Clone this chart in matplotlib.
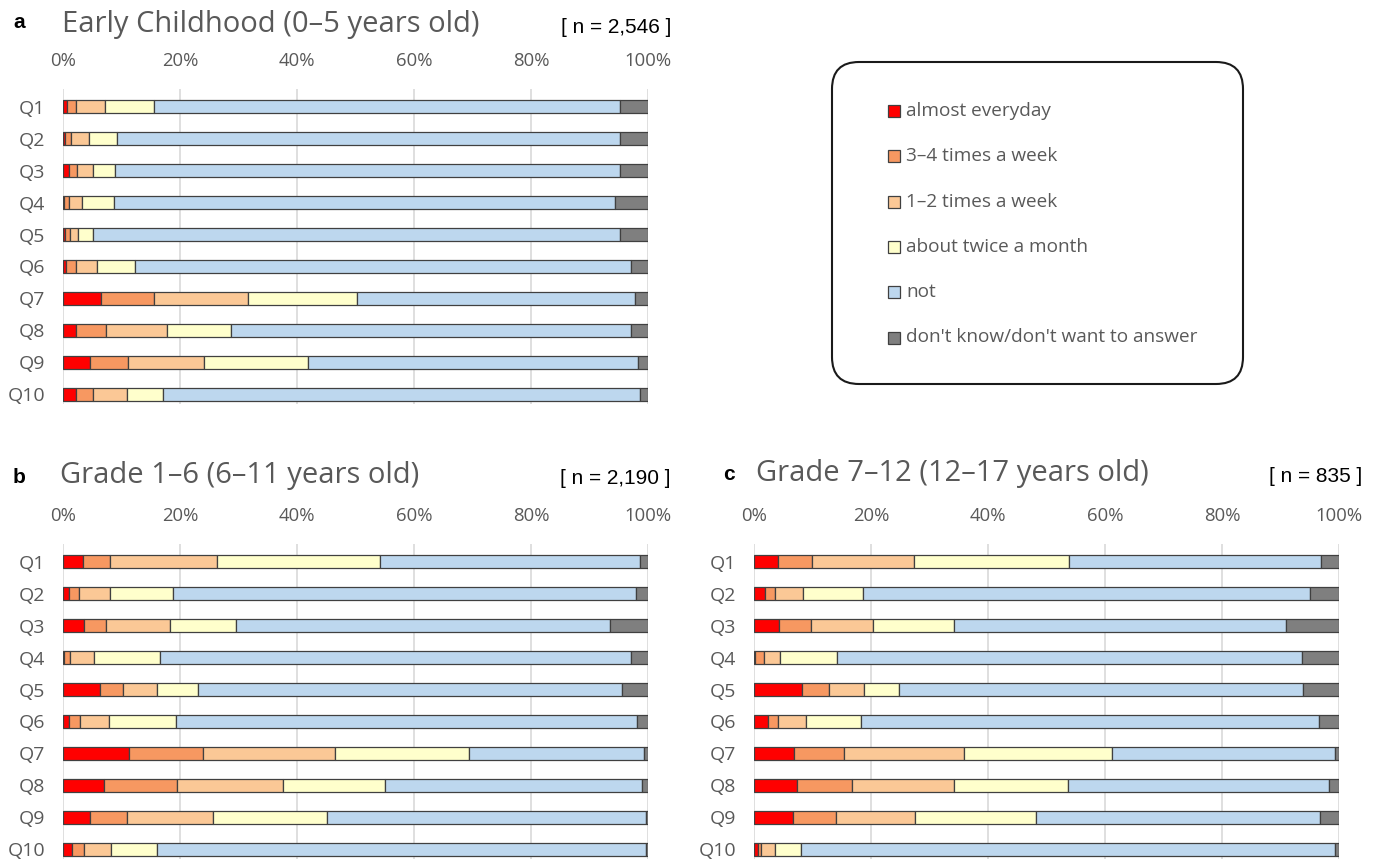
import matplotlib
matplotlib.use("Agg")
import matplotlib.pyplot as plt
from matplotlib.patches import FancyBboxPatch, Rectangle
from matplotlib.ticker import FuncFormatter

plt.rcParams['font.family'] = ['Open Sans', 'DejaVu Sans']

questions = ['Q1', 'Q2', 'Q3', 'Q4', 'Q5', 'Q6', 'Q7', 'Q8', 'Q9', 'Q10']
responses = ['almost everyday', '3\u20134 times a week', '1\u20132 times a week',
             'about twice a month', 'not', "don't know/don't want to answer"]
colors = ['#FF0000', '#F79861', '#FBC896', '#FFFFCC', '#BDD7EE', '#7F7F7F']

# percentages, one row per response, one column per question
early = [
    [0.6, 0.3, 0.9, 0.2, 0.3, 0.5, 6.4, 2.2, 4.6, 2.1],
    [1.5, 1.0, 1.4, 0.7, 0.9, 1.6, 9.1, 5.1, 6.4, 3.0],
    [5.0, 3.1, 2.7, 2.3, 1.3, 3.7, 16.1, 10.4, 13.0, 5.8],
    [8.4, 4.8, 3.9, 5.5, 2.5, 6.4, 18.6, 11.0, 17.8, 6.1],
    [79.7, 85.9, 86.2, 85.6, 90.2, 84.9, 47.5, 68.4, 56.5, 81.5],
    [4.8, 4.9, 4.9, 5.7, 4.8, 2.9, 2.3, 2.9, 1.7, 1.5],
]
grade1_6 = [
    [3.3, 0.9, 3.5, 0.2, 6.3, 0.9, 11.2, 7.0, 4.5, 1.5],
    [4.7, 1.7, 3.8, 1.0, 3.9, 1.9, 12.7, 12.4, 6.4, 2.1],
    [18.2, 5.3, 11.0, 4.0, 5.9, 5.0, 22.5, 18.1, 14.7, 4.5],
    [28.0, 10.8, 11.2, 11.3, 7.0, 11.4, 22.9, 17.5, 19.5, 8.0],
    [44.3, 79.2, 64.0, 80.5, 72.4, 78.8, 30.0, 43.9, 54.5, 83.5],
    [1.5, 2.1, 6.5, 3.0, 4.5, 2.0, 0.7, 1.1, 0.4, 0.4],
]
grade7_12 = [
    [4.1, 1.8, 4.3, 0.2, 8.2, 2.3, 6.8, 7.3, 6.7, 0.6],
    [5.7, 1.8, 5.4, 1.4, 4.6, 1.7, 8.6, 9.4, 7.3, 0.6],
    [17.5, 4.8, 10.6, 2.8, 6.0, 4.9, 20.4, 17.4, 13.4, 2.3],
    [26.5, 10.2, 13.9, 9.8, 6.0, 9.4, 25.3, 19.5, 20.8, 4.4],
    [43.1, 76.4, 56.7, 79.4, 69.0, 78.3, 38.2, 44.6, 48.5, 91.4],
    [3.1, 5.0, 9.1, 6.4, 6.2, 3.4, 0.7, 1.8, 3.3, 0.7],
]

grey = '#595959'
W, H = 1379, 859
fig = plt.figure(figsize=(W / 100, H / 100), dpi=100)


def px_axes(left, top, width, height):
    return fig.add_axes([left / W, 1 - (top + height) / H, width / W, height / H])


def draw_panel(ax, data):
    left = [0.0] * len(questions)
    for vals, col in zip(data, colors):
        ax.barh(questions, vals, left=left, height=0.42, color=col,
                edgecolor='#404040', linewidth=0.9, zorder=3)
        left = [l + v for l, v in zip(left, vals)]
    ax.set_xlim(0, 100)
    ax.set_ylim(9.3, -0.55)
    ax.set_xticks([0, 20, 40, 60, 80, 100])
    ax.xaxis.set_major_formatter(FuncFormatter(lambda v, p: f'{v:.0f}%'))
    ax.xaxis.tick_top()
    ax.tick_params(axis='x', length=0, pad=14, labelsize=13.3, labelcolor=grey)
    ax.tick_params(axis='y', length=0, pad=13, labelsize=14, labelcolor=grey)
    ax.grid(axis='x', color='#D9D9D9', linewidth=1.2, zorder=0)
    for s in ax.spines.values():
        s.set_visible(False)


ax_a = px_axes(63.3, 89, 585, 315)
ax_b = px_axes(63.3, 544, 585, 315)
ax_c = px_axes(754.3, 544, 585, 315)
draw_panel(ax_a, early)
draw_panel(ax_b, grade1_6)
draw_panel(ax_c, grade7_12)

# panel letters, titles and sample sizes (x, baseline y in pixels)
heads = [
    (13, 28, 'a', 62, 32, 'Early Childhood (0\u20135 years old)', 671, 33, '[ n = 2,546 ]'),
    (13, 483, 'b', 60, 483, 'Grade 1\u20136 (6\u201311 years old)', 671, 484, '[ n = 2,190 ]'),
    (723, 480, 'c', 756, 481, 'Grade 7\u201312 (12\u201317 years old)', 1362, 482, '[ n = 835 ]'),
]
for lx, ly, letter, tx, ty, title, nx, ny, ntxt in heads:
    fig.text(lx / W, 1 - ly / H, letter, fontsize=15, fontweight='bold',
             family='Liberation Sans', ha='left', va='baseline')
    fig.text(tx / W, 1 - ty / H, title, fontsize=21, color=grey,
             ha='left', va='baseline')
    fig.text(nx / W, 1 - ny / H, ntxt, fontsize=15, color='black',
             family='Liberation Sans', ha='right', va='baseline')

# legend box
lax = px_axes(828, 58, 420, 333)
lax.set_xlim(828, 1248)
lax.set_ylim(391, 58)
lax.axis('off')
lax.add_patch(FancyBboxPatch((845, 75), 385, 296,
                             boxstyle='round,pad=13,rounding_size=27',
                             facecolor='white', edgecolor='#1A1A1A', linewidth=1.5))
for i, (lab, col) in enumerate(zip(responses, colors)):
    yy = 111 + i * 45.3
    lax.add_patch(Rectangle((888, yy - 6), 12, 12, facecolor=col,
                            edgecolor='#404040', linewidth=0.9))
    lax.text(906, yy, lab, fontsize=13.7, color=grey, ha='left', va='center')

fig.savefig('out.png', dpi=100)
